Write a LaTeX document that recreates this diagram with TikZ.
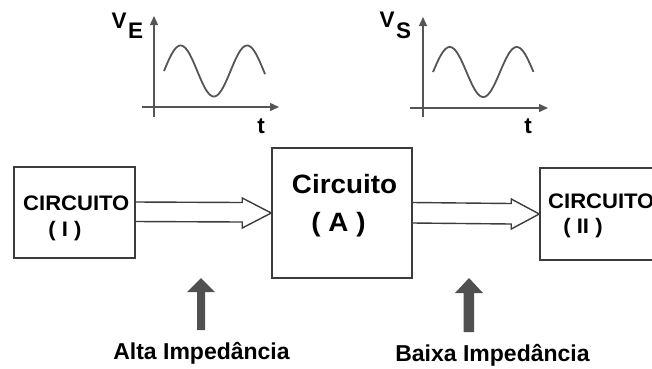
\documentclass[tikz,border=0pt]{standalone}
\usepackage{fontspec}
\setmainfont{Liberation Sans}
\newfontfamily\widesans[FakeStretch=1.05]{Liberation Sans}
\usetikzlibrary{arrows.meta,calc}
\definecolor{ln}{HTML}{3C3C3C}
\definecolor{ax}{HTML}{555555}
\definecolor{fat}{HTML}{505050}
\begin{document}
\begin{tikzpicture}[x=1pt,y=-1pt,
  box/.style={draw=ln,line width=1.5pt,inner sep=0pt},
  txt/.style={inner sep=0pt,font=\widesans\bfseries\fontsize{21}{24}\selectfont},
  lab/.style={inner sep=0pt,font=\bfseries\fontsize{22.5}{26}\selectfont},
  big/.style={inner sep=0pt,font=\widesans\bfseries\fontsize{26.5}{30}\selectfont},
  low/.style={inner sep=0pt,font=\bfseries\fontsize{23}{26}\selectfont},
  axis/.style={draw=ax,line width=1.4pt,-{Triangle[length=9pt,width=8pt]}},
  wave/.style={draw=ax,line width=1.8pt},
  hollow/.style={draw=ln,line width=1.4pt,line join=miter},
  fatarrow/.style={fill=fat,draw=none}]
\useasboundingbox (0,0) rectangle (652,368);
\clip (0,0) rectangle (652,368);
% boxes
\node[box,minimum width=121pt,minimum height=91pt] (I) at (74.5,212.5) {};
\node[box,minimum width=140pt,minimum height=130pt] (A) at (342,213) {};
\node[box,minimum width=200pt,minimum height=92pt] (II) at (640,214) {};
% box texts
\node[txt,anchor=base west] (tI1) at (23,210.7) {CIRCUITO};
\node[txt,anchor=base] (tI2) at (65,236) {( I )};
\node[big,anchor=base] (tA1) at (344.5,193.3) {Circuito};
\node[big,anchor=base] (tA2) at (338.5,231.7) {( A )};
\node[txt,anchor=base west] (tII1) at (548,208.3) {CIRCUITO};
\node[txt,anchor=base] (tII2) at (583,233) {( II )};
% hollow arrows
\draw[hollow] ([yshift=10.5pt]I.east) -- ([yshift=10.5pt,xshift=-29pt]A.west)
  -- ([yshift=15pt,xshift=-29pt]A.west) -- (A.west)
  -- ([yshift=-15pt,xshift=-29pt]A.west) -- ([yshift=-9pt,xshift=-29pt]A.west)
  -- ([yshift=-9pt]I.east);
\draw[hollow] ([yshift=10.5pt]A.east) -- ([yshift=10.5pt,xshift=-28pt]II.west)
  -- ([yshift=15pt,xshift=-28pt]II.west) -- (II.west)
  -- ([yshift=-15pt,xshift=-28pt]II.west) -- ([yshift=-10pt,xshift=-28pt]II.west)
  -- ([yshift=-10pt]A.east);
% graph E
\draw[axis] (154,117) -- (154,16);
\draw[axis] (142,107) -- (279,107);
\draw[wave] plot[domain=0:1.52,samples=90] ({164+66.5*\x},{71-25.5*sin(360*\x)});
\node[lab,anchor=base west] (VE) at (111.5,28.5) {V};
\node[lab,anchor=base west] (E) at (128,38.5) {E};
\node[lab,anchor=base] (tE) at (261,133) {t};
% graph S
\draw[axis] (423,117) -- (423,17);
\draw[axis] (410,108) -- (548,108);
\draw[wave] plot[domain=0:1.5,samples=90] ({433+67*\x},{72-25*sin(360*\x)});
\node[lab,anchor=base west] (VS) at (379.5,27.5) {V};
\node[lab,anchor=base west] (S) at (396,38.5) {S};
\node[lab,anchor=base] (tS) at (528,133) {t};
% fat arrows
\fill[fatarrow] (197,330) -- (197,292) -- (187,292) -- (201,278) -- (215,292) -- (205,292) -- (205,330) -- cycle;
\fill[fatarrow] (463.5,332) -- (463.5,293) -- (455,293) -- (469,278) -- (483,293) -- (474,293) -- (474,332) -- cycle;
\node[low,anchor=base] (alta) at (201.5,359.3) {Alta Impedância};
\node[low,anchor=base] (baixa) at (492.5,361.7) {Baixa Impedância};
\end{tikzpicture}
\end{document}
